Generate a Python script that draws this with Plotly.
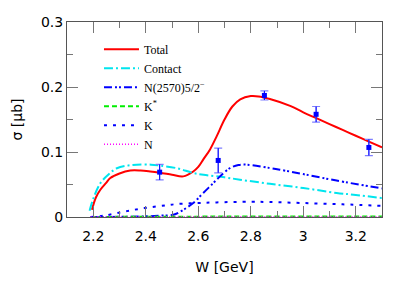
import plotly.graph_objects as go

# ---- data ----
W_total = [2.195, 2.21, 2.227, 2.25, 2.265, 2.30, 2.341, 2.38, 2.417, 2.454, 2.50, 2.543, 2.581,
           2.60, 2.62, 2.645, 2.67, 2.70, 2.73, 2.76, 2.80, 2.83, 2.873, 2.95, 3.0, 3.05,
           3.10, 3.15, 3.20, 3.25, 3.30]
S_total = [0.011, 0.030, 0.042, 0.053, 0.060, 0.067, 0.0715, 0.0715, 0.070, 0.068, 0.065, 0.0625, 0.070,
           0.077, 0.089, 0.104, 0.124, 0.150, 0.170, 0.181, 0.186, 0.1855, 0.1815, 0.171, 0.161, 0.152,
           0.143, 0.134, 0.125, 0.116, 0.107]

W_contact = [2.186, 2.20, 2.227, 2.26, 2.29, 2.35, 2.42, 2.454, 2.519, 2.581, 2.62, 2.70, 2.759,
             2.873, 3.0, 3.127, 3.20, 3.30]
S_contact = [0.0097, 0.028, 0.052, 0.066, 0.075, 0.080, 0.0805, 0.079, 0.075, 0.0677, 0.065, 0.061, 0.0574,
             0.051, 0.0446, 0.037, 0.034, 0.029]

W_nstar = [2.19, 2.30, 2.40, 2.45, 2.505, 2.543, 2.581, 2.619, 2.657, 2.683, 2.72, 2.753, 2.785,
           2.873, 2.911, 3.0, 3.127, 3.30]
S_nstar = [0.0, 0.0003, 0.001, 0.002, 0.0035, 0.011, 0.0215, 0.037, 0.052, 0.0625, 0.075, 0.080, 0.0805,
           0.0754, 0.0728, 0.066, 0.056, 0.044]

W_kstar = [2.19, 2.50, 3.30]
S_kstar = [0.0, 0.0005, 0.0008]

W_k = [2.19, 2.24, 2.303, 2.354, 2.417, 2.48, 2.519, 2.60, 2.67, 2.80, 2.873, 3.0, 3.15, 3.30]
S_k = [0.0, 0.002, 0.007, 0.011, 0.015, 0.018, 0.020, 0.0215, 0.0225, 0.0235, 0.023, 0.0215, 0.0195, 0.0172]

W_n = [2.19, 2.60, 3.30]
S_n = [0.0, 0.0002, 0.0003]

W_data = [2.453, 2.676, 2.852, 3.049, 3.250]
S_data = [0.069, 0.087, 0.187, 0.158, 0.107]
E_data = [0.012, 0.019, 0.007, 0.012, 0.0125]

x_ticks = [2.2, 2.4, 2.6, 2.8, 3.0, 3.2]
x_tick_labels = ["2.2", "2.4", "2.6", "2.8", "3", "3.2"]
y_ticks = [0, 0.1, 0.2, 0.3]
y_tick_labels = ["0", "0.1", "0.2", "0.3"]

# ---- figure ----
fig = go.Figure()

def curve(x, y, name, color, dash, width=2):
    fig.add_trace(go.Scatter(x=x, y=y, mode="lines", name=name,
                             line=dict(color=color, dash=dash, width=width, shape="spline", smoothing=1.0)))

curve(W_total, S_total, "Total", "#ff0000", "solid")
curve(W_contact, S_contact, "Contact", "#00e5ee", "9px,3px,2px,3px")
curve(W_nstar, S_nstar, "N(2570)5/2<sup>−</sup>", "#0000ff", "8px,3px,2px,2px,2px,3px")
curve(W_kstar, S_kstar, "K<sup>*</sup>", "#00ee00", "5px,3px")
curve(W_k, S_k, "K", "#0000ff", "3px,6px")
curve(W_n, S_n, "N", "#ff00ff", "1px,2px", width=1.5)

# light caps
fig.add_trace(go.Scatter(x=W_data, y=S_data, mode="markers", showlegend=False,
                         marker=dict(size=0.1, color="rgba(0,0,0,0)"),
                         error_y=dict(type="data", array=E_data, visible=True,
                                      color="#7f7fff", thickness=1.2, width=4)))
# dark stems + markers
fig.add_trace(go.Scatter(x=W_data, y=S_data, mode="markers", showlegend=False,
                         marker=dict(symbol="square", size=5, color="#0000ff"),
                         error_y=dict(type="data", array=E_data, visible=True,
                                      color="#0000ff", thickness=1, width=0)))

axis_common = dict(
    showline=True, linecolor="#555555", linewidth=1, mirror="ticks",
    ticks="inside", ticklen=11, tickcolor="#777777", tickwidth=1,
    showgrid=False, zeroline=False, automargin=False,
    tickfont=dict(family="DejaVu Sans", size=14, color="#000000"),
)

fig.update_xaxes(range=[2.1, 3.3], tickvals=x_ticks, ticktext=x_tick_labels,
                 minor=dict(dtick=0.1, tick0=2.1, ticks="inside", ticklen=6, tickcolor="#777777"),
                 ticklabelstandoff=6,
                 title=dict(text="W [GeV]", font=dict(family="DejaVu Sans", size=14, color="#000000"),
                            standoff=19),
                 **axis_common)
fig.update_yaxes(range=[0, 0.3], tickvals=y_ticks, ticktext=y_tick_labels,
                 minor=dict(dtick=0.05, tick0=0, ticks="inside", ticklen=6, tickcolor="#777777"),
                 title=dict(text="σ [μb]", font=dict(family="DejaVu Sans", size=14, color="#000000"),
                            standoff=15),
                 **axis_common)

# the page body adds an 8px margin, so the figure is 8px smaller and shifted accordingly
fig.update_layout(
    width=407, height=282,
    margin=dict(l=59, r=33, t=14, b=73, autoexpand=False),
    paper_bgcolor="#ffffff", plot_bgcolor="#ffffff",
    showlegend=True,
    legend=dict(x=0.1015, y=0.935, xanchor="left", yanchor="top",
                bgcolor="rgba(0,0,0,0)", borderwidth=0,
                font=dict(family="Liberation Serif", size=12, color="#000000"),
                itemwidth=35, tracegroupgap=0),
)

fig.write_html("out.html")
